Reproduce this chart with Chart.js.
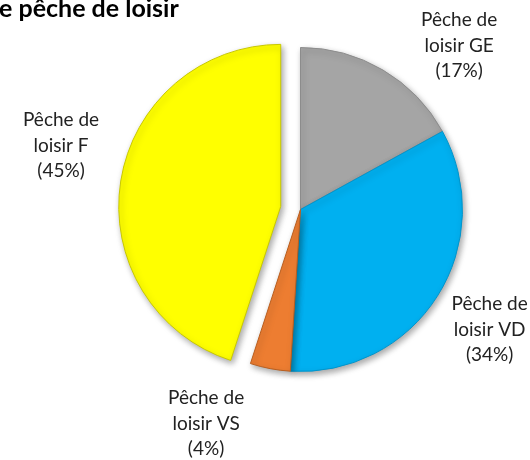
<!DOCTYPE html>
<html>
<head>
<meta charset="utf-8">
<script src="https://cdn.jsdelivr.net/npm/chart.js@4/dist/chart.umd.min.js"></script>
<style>
  html, body { margin: 0; padding: 0; background: #fff; }
  #wrap { width: 530px; height: 460px; position: relative; }
</style>
</head>
<body>
<div id="wrap"><canvas id="pieChart" width="530" height="460"></canvas></div>
<script>
const titleText = 'e pêche de loisir';
const categories = ['Pêche de loisir GE', 'Pêche de loisir VD', 'Pêche de loisir VS', 'Pêche de loisir F'];
const shares = [17, 34, 4, 45];
const sliceColors = ['#A5A5A5', '#00B0F0', '#ED7D31', '#FFFF00'];
const edgeColors = ['#8c8c8c', '#0095cc', '#b85e1f', '#c8c800'];
// pulled-out distance per slice, px (Excel style: radius unchanged)
const explodePx = [0, 0, 0, 20];

function labelLines(i) {
    const name = categories[i];
    return ['Pêche de', name.replace('Pêche de ', ''), '(' + shares[i] + '%)'];
}

// small angle / distance nudges for the outside labels (degrees, px)
const labelNudge = [13.5, 0, 13, 6.5];
const labelDist = [66, 62, 72, 66];

// pie that moves exploded slices without growing them
class ExplodedPie extends Chart.PieController {
    draw() {
        const ctx = this.chart.ctx;
        const area = this.chart.chartArea;
        this._cachedMeta.data.forEach((arc, i) => {
            const shift = explodePx[i] || 0;
            const mid = (arc.startAngle + arc.endAngle) / 2;
            ctx.save();
            ctx.translate(Math.cos(mid) * shift, Math.sin(mid) * shift);
            arc.draw(ctx, area);
            ctx.restore();
        });
    }
}
ExplodedPie.id = 'explodedPie';
ExplodedPie.defaults = Chart.PieController.defaults;
ExplodedPie.overrides = Chart.PieController.overrides;
Chart.register(ExplodedPie);

const titlePlugin = {
    id: 'cutTitle',
    afterDraw(chart) {
        const ctx = chart.ctx;
        ctx.save();
        ctx.fillStyle = '#000';
        ctx.font = 'bold 25px Lato, "Open Sans", sans-serif';
        ctx.textBaseline = 'alphabetic';
        ctx.fillText(titleText, -1, 17);
        ctx.restore();
    }
};

const shadowPlugin = {
    id: 'sliceShadow',
    beforeDatasetDraw(chart) {
        const ctx = chart.ctx;
        ctx.save();
        ctx.shadowColor = 'rgba(0,0,0,0.35)';
        ctx.shadowBlur = 6;
        ctx.shadowOffsetX = 2;
        ctx.shadowOffsetY = 3;
    },
    afterDatasetDraw(chart) {
        chart.ctx.restore();
    }
};

const outsideLabels = {
    id: 'outsideLabels',
    afterDatasetsDraw(chart) {
        const ctx = chart.ctx;
        const meta = chart.getDatasetMeta(0);
        ctx.save();
        ctx.fillStyle = '#222';
        ctx.font = '19px Lato, "Open Sans", sans-serif';
        ctx.textAlign = 'center';
        ctx.textBaseline = 'middle';
        meta.data.forEach((arc, i) => {
            const mid = (arc.startAngle + arc.endAngle) / 2;
            const off = explodePx[i];
            const cx = arc.x + Math.cos(mid) * off;
            const cy = arc.y + Math.sin(mid) * off;
            const a = mid + labelNudge[i] * Math.PI / 180;
            const d = arc.outerRadius + labelDist[i];
            const lx = cx + Math.cos(a) * d;
            const ly = cy + Math.sin(a) * d;
            labelLines(i).forEach((t, k) => {
                ctx.fillText(t, lx, ly + (k - 1) * 25.5);
            });
        });
        ctx.restore();
    }
};

new Chart(document.getElementById('pieChart'), {
    type: 'explodedPie',
    data: {
        labels: categories,
        datasets: [{
            data: shares,
            backgroundColor: sliceColors,
            borderColor: edgeColors,
            borderWidth: 1,
            hoverOffset: 0,
            clip: false
        }]
    },
    options: {
        responsive: false,
        animation: false,
        layout: { padding: { left: 138, right: 67, top: 47, bottom: 88 } },
        plugins: {
            legend: { display: false },
            title: { display: false },
            tooltip: { enabled: false }
        }
    },
    plugins: [shadowPlugin, outsideLabels, titlePlugin]
});
</script>
</body>
</html>
